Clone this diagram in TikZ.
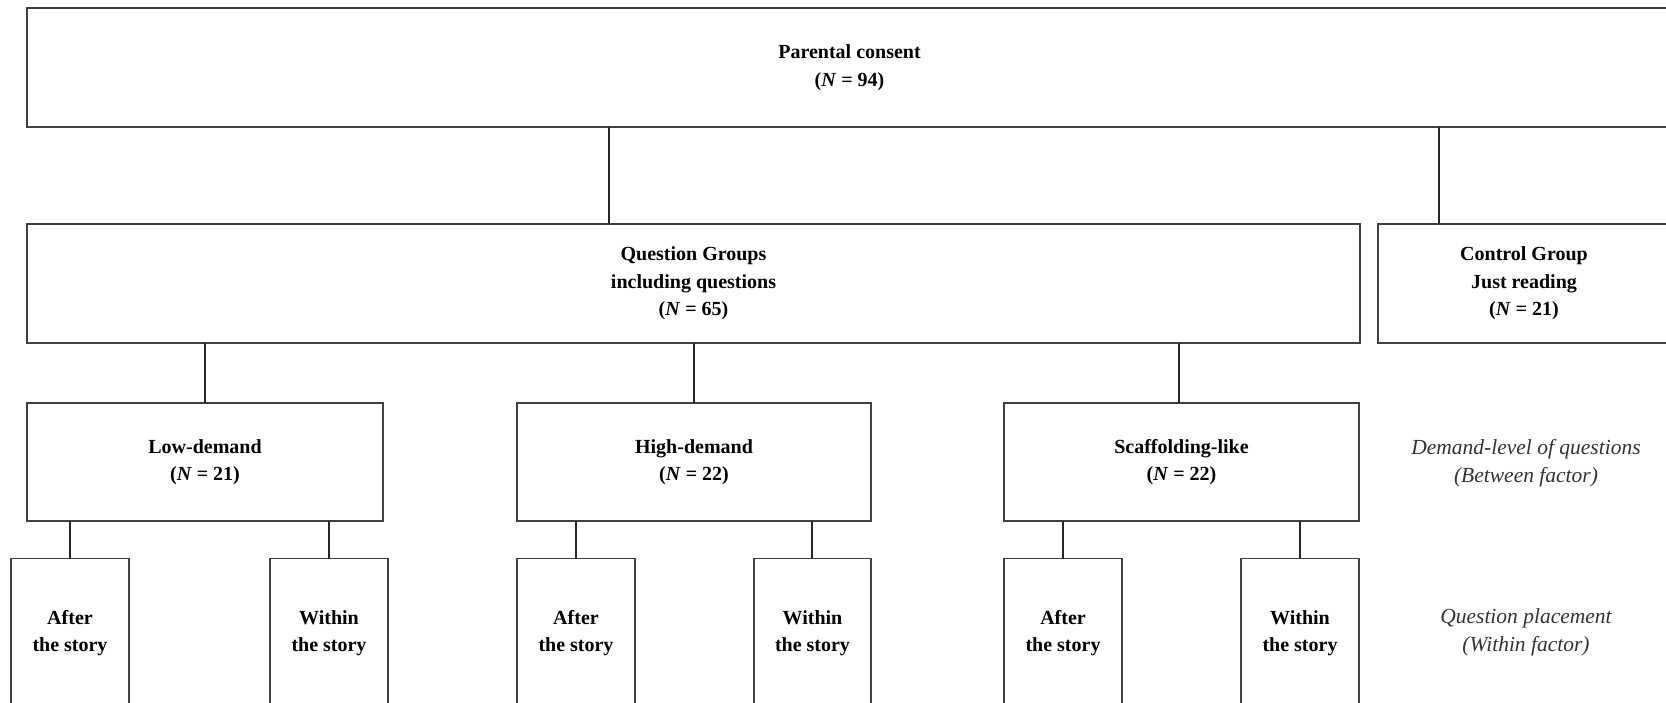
\documentclass[tikz,border=0pt]{standalone}
\usepackage{fontspec}
\setmainfont{Liberation Serif}
\begin{document}
\begin{tikzpicture}[x=1pt,y=-1pt,
 box/.style={draw=black!75, line width=1.5pt, inner sep=0pt, outer sep=0pt, align=center,
   font=\bfseries\fontsize{20}{27.5}\selectfont},
 leaf/.style={box, minimum width=118pt, minimum height=149.5pt},
 mid/.style={box, minimum height=118pt},
 link/.style={draw=black!85, line width=1.3pt},
 side/.style={align=center, font=\itshape\fontsize{21.5}{28}\selectfont, text=black!80}]
\useasboundingbox (0,0) rectangle (1666,703);
\fill[white] (0,0) rectangle (1666,703);

% level 1
\node[box, minimum width=1645pt, minimum height=119pt] (top) at (849.5,67.5) {Parental consent\\(\textit{N} = 94)};
% level 2
\node[box, minimum width=1333pt, minimum height=119pt] (qg) at (693.5,283.5) {Question Groups\\including questions\\(\textit{N} = 65)};
\node[box, minimum width=292pt, minimum height=119pt] (ctrl) at (1524,283.5) {Control Group\\Just reading\\(\textit{N} = 21)};
% level 3
\node[mid, minimum width=356pt] (low) at (205,462) {Low-demand\\(\textit{N} = 21)};
\node[mid, minimum width=354pt] (high) at (694,462) {High-demand\\(\textit{N} = 22)};
\node[mid, minimum width=355pt] (scaf) at (1181.5,462) {Scaffolding-like\\(\textit{N} = 22)};
% level 4
\node[leaf] (la) at (70,633.25) {After\\the story};
\node[leaf] (lw) at (329,633.25) {Within\\the story};
\node[leaf] (ha) at (576,633.25) {After\\the story};
\node[leaf, minimum width=117pt] (hw) at (812.5,633.25) {Within\\the story};
\node[leaf] (sa) at (1063,633.25) {After\\the story};
\node[leaf] (sw) at (1300,633.25) {Within\\the story};

% side labels
\node[side] (between) at (1526,463) {Demand-level of questions\\(Between factor)};
\node[side] (within) at (1526,632) {Question placement\\(Within factor)};

% connectors
\coordinate (xq) at (609,0);
\coordinate (xc) at (1439,0);
\coordinate (xs) at (1179,0);
\coordinate (xhw) at (812,0);
\draw[link] (top.south -| xq) -- (qg.north -| xq);
\draw[link] (top.south -| xc) -- (ctrl.north -| xc);
\draw[link] (qg.south -| low.north) -- (low.north);
\draw[link] (qg.south -| high.north) -- (high.north);
\draw[link] (qg.south -| xs) -- (scaf.north -| xs);
\draw[link] (low.south -| la.north) -- (la.north);
\draw[link] (low.south -| lw.north) -- (lw.north);
\draw[link] (high.south -| ha.north) -- (ha.north);
\draw[link] (high.south -| xhw) -- (hw.north -| xhw);
\draw[link] (scaf.south -| sa.north) -- (sa.north);
\draw[link] (scaf.south -| sw.north) -- (sw.north);
\end{tikzpicture}
\end{document}
